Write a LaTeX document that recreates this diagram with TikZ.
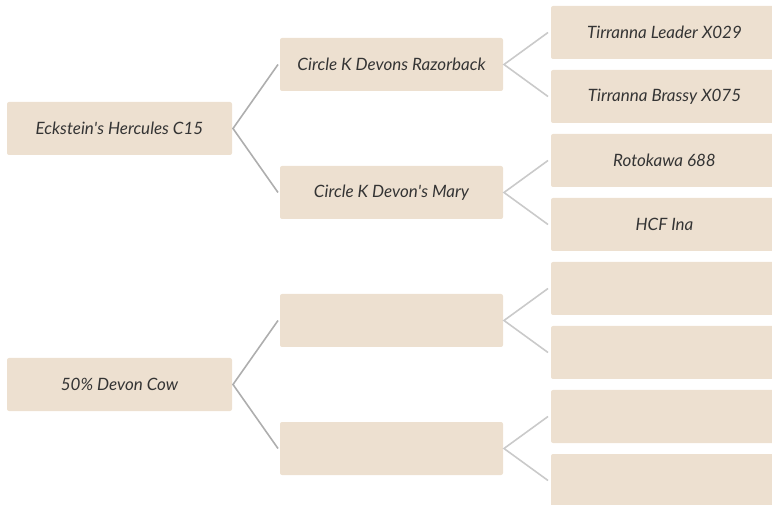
\documentclass[tikz,border=0pt]{standalone}
\usepackage{fontspec}
\setmainfont{Lato}
\usetikzlibrary{calc}
\definecolor{boxtan}{RGB}{237,224,208}
\definecolor{inkgrey}{RGB}{52,52,52}
\definecolor{linkA}{RGB}{174,174,174}
\definecolor{linkB}{RGB}{202,202,202}
\tikzset{
	sire/.style={fill=boxtan, rounded corners=2pt, inner sep=0pt, outer sep=0pt, minimum height=53pt, text=inkgrey, font=\fontsize{17}{19}\selectfont\itshape},
	gen1/.style={sire, minimum width=225pt},
	gen2/.style={sire, minimum width=223pt},
	gen3/.style={sire, minimum width=227pt},
	linkone/.style={draw=linkA, line width=1.6pt},
	linktwo/.style={draw=linkB, line width=1.6pt}
}

\begin{document}
\begin{tikzpicture}[x=1pt, y=-1pt]
		%%%%% START %%%%%
		\useasboundingbox (0, 0) rectangle (772, 505);
		\clip (0, 0) rectangle (772, 505);
		
		\node[gen1] (sire) at (119.5, 128.5) {Eckstein\textquotesingle s Hercules C15};
		\node[gen1] (dam) at (119.5, 384.5) {50\% Devon Cow};
		
		\node[gen2] (ss) at (391.5, 64.5) {Circle K Devons Razorback};
		\node[gen2] (sd) at (391.5, 192.5) {Circle K Devon\textquotesingle s Mary};
		\node[gen2] (ds) at (391.5, 320.5) {};
		\node[gen2] (dd) at (391.5, 448.5) {};
		
		\node[gen3] (sss) at (664.5, 32.5) {Tirranna Leader X029};
		\node[gen3] (ssd) at (664.5, 96.5) {Tirranna Brassy X075};
		\node[gen3] (sds) at (664.5, 160.5) {Rotokawa 688};
		\node[gen3] (sdd) at (664.5, 224.5) {HCF Ina};
		\node[gen3] (dss) at (664.5, 288.5) {};
		\node[gen3] (dsd) at (664.5, 352.5) {};
		\node[gen3] (dds) at (664.5, 416.5) {};
		\node[gen3] (ddd) at (664.5, 480.5) {};
		
		\draw[linkone] ([xshift=-2]ss.west) -- ([xshift=1]sire.east) -- ([xshift=-2]sd.west);
		\draw[linkone] ([xshift=-2]ds.west) -- ([xshift=1]dam.east) -- ([xshift=-2]dd.west);
		
		\draw[linktwo] ($(sss.west)+(-3,0)$) -- ([xshift=1]ss.east) -- ($(ssd.west)+(-3,0)$);
		\draw[linktwo] ($(sds.west)+(-3,0)$) -- ([xshift=1]sd.east) -- ($(sdd.west)+(-3,0)$);
		\draw[linktwo] ($(dss.west)+(-3,0)$) -- ([xshift=1]ds.east) -- ($(dsd.west)+(-3,0)$);
		\draw[linktwo] ($(dds.west)+(-3,0)$) -- ([xshift=1]dd.east) -- ($(ddd.west)+(-3,0)$);
		
		%%%%% END %%%%%
	\end{tikzpicture}
\end{document}
